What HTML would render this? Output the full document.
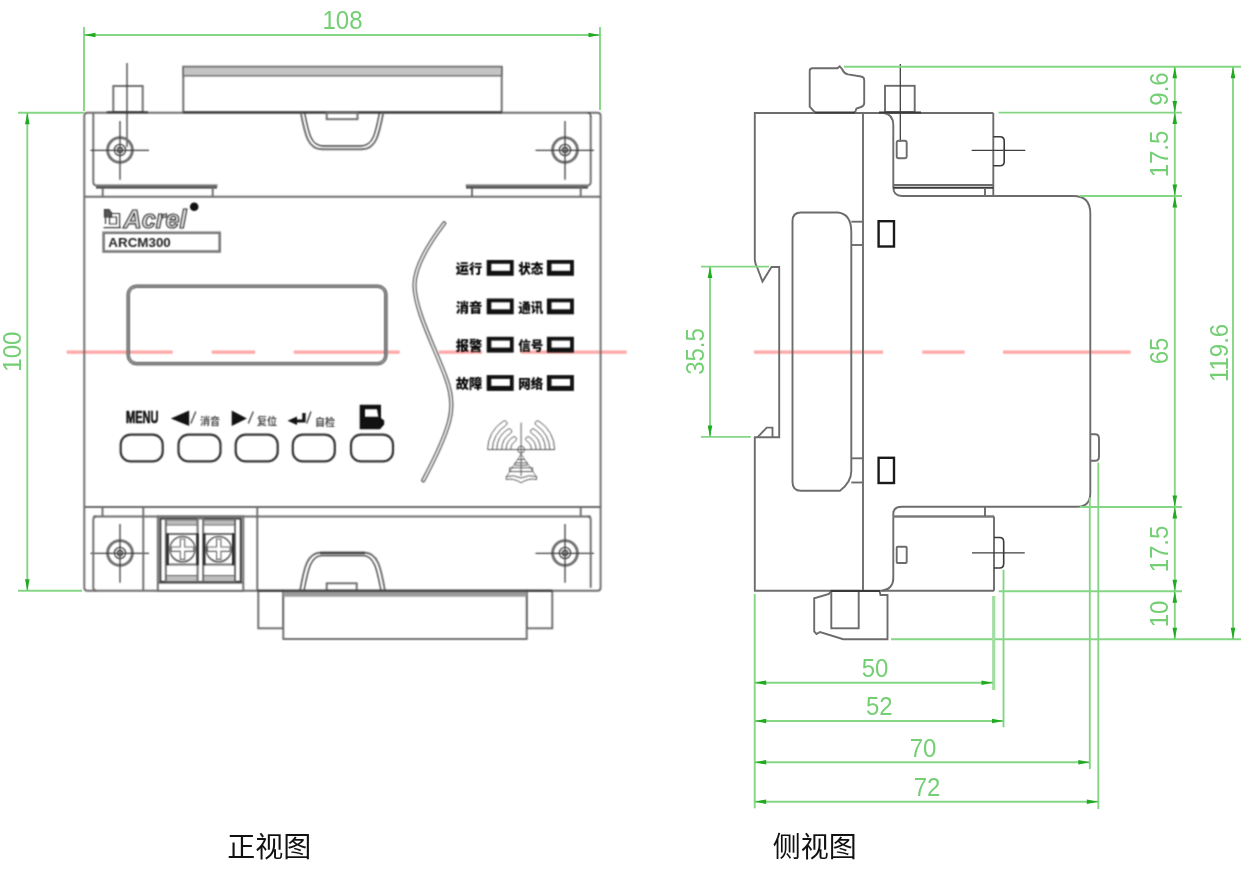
<!DOCTYPE html>
<html lang="zh">
<head>
<meta charset="utf-8">
<title>ARCM300 外形尺寸</title>
<style>
html,body{margin:0;padding:0;background:#fff;}
body{width:1242px;height:893px;overflow:hidden;position:relative;}
svg{will-change:transform;position:absolute;left:0;top:0;display:block;}
.k{fill:none;stroke:#6c6c6c;stroke-width:1.9;}
.kf{fill:#fff;stroke:#6c6c6c;stroke-width:1.9;}
.kd{fill:none;stroke:#3a3a3a;stroke-width:2;}
.kt{fill:none;stroke:#3e3e3e;stroke-width:1.3;}
.g{fill:none;stroke:#84d684;stroke-width:1.9;}
.ga{fill:#22aa22;stroke:none;}
.gt{fill:#74cf74;font-family:"Liberation Sans",sans-serif;font-size:24px;text-anchor:middle;}
.r{fill:none;stroke:#ffa6a6;stroke-width:3.2;}
.cap{font-family:"Liberation Sans","Noto Sans CJK SC",sans-serif;font-weight:400;font-size:28px;fill:#111;text-anchor:middle;}
.led{font-family:"Liberation Sans","Noto Sans CJK SC",sans-serif;font-weight:900;font-size:13px;fill:#000;}
.bl{font-family:"Liberation Sans","Noto Sans CJK SC",sans-serif;font-weight:700;font-size:10px;fill:#4a4a4a;}
</style>
</head>
<body>
<svg width="1242" height="893" viewBox="0 0 1242 893">
<defs><filter id="soft" x="0" y="0" width="1242" height="893" filterUnits="userSpaceOnUse" color-interpolation-filters="sRGB"><feConvolveMatrix order="3" kernelMatrix="0.0529 0.1242 0.0529 0.1242 0.2916 0.1242 0.0529 0.1242 0.0529" divisor="1" edgeMode="duplicate" preserveAlpha="false"/></filter></defs>
<rect x="0" y="0" width="1242" height="893" fill="#fff"/>
<g filter="url(#soft)">
<g id="centre">
<line class="r" x1="66.7" y1="352.2" x2="172.7" y2="352.2"/>
<line class="r" x1="211.7" y1="352.2" x2="255" y2="352.2"/>
<line class="r" x1="293.7" y1="352.2" x2="399.7" y2="352.2"/>
<line class="r" x1="438.7" y1="352.2" x2="482" y2="352.2"/>
<line class="r" x1="520.7" y1="352.2" x2="626.7" y2="352.2"/>
<line class="r" x1="754" y1="352.2" x2="883" y2="352.2"/>
<line class="r" x1="922.3" y1="352.2" x2="964.7" y2="352.2"/>
<line class="r" x1="1003" y1="352.2" x2="1130.7" y2="352.2"/>
</g>
<g id="front">
<path class="k" d="M84.3,587.8 V115.7 Q84.3,112.7 87.3,112.7 H597.6 Q600.6,112.7 600.6,115.7 V587.8 Q600.6,590.8 597.6,590.8 H87.3 Q84.3,590.8 84.3,587.8Z"/>
<line class="k" x1="84.3" y1="196.7" x2="600.6" y2="196.7"/>
<line class="k" x1="84.3" y1="507" x2="600.6" y2="507"/>
<path class="k" d="M93.3,112.7 V182 Q93.3,185.5 97,185.5 H217.5"/>
<line class="kd" x1="96" y1="187.6" x2="217" y2="187.6"/>
<line class="k" x1="102.7" y1="188" x2="102.7" y2="196.7"/>
<line class="k" x1="212.7" y1="186" x2="212.7" y2="196.7"/>
<path class="k" d="M590.7,115.7 V182 Q590.7,185.5 587,185.5 H465.7"/>
<path class="kt" d="M587.5,112.7 Q590.7,112.7 590.7,116.7"/>
<line class="kd" x1="466" y1="187.6" x2="588" y2="187.6"/>
<line class="k" x1="472" y1="188" x2="472" y2="196.7"/>
<line class="k" x1="580.7" y1="186" x2="580.7" y2="196.7"/>
<rect class="k" x="113.3" y="86" width="29.4" height="26"/>
<line class="kd" x1="106.7" y1="112.2" x2="148" y2="112.2"/>
<line class="kt" x1="127" y1="63" x2="127" y2="147"/>
<circle cx="120" cy="150" r="12.4" fill="none" stroke="#707070" stroke-width="2.9"/>
<circle class="kt" cx="120" cy="150" r="5.6"/>
<circle class="kt" cx="120" cy="150" r="2.6"/>
<line class="kt" x1="90.5" y1="150.3" x2="149" y2="150.3"/>
<line class="kt" x1="120" y1="121" x2="120" y2="179.7"/>
<circle cx="565" cy="150" r="12.4" fill="none" stroke="#707070" stroke-width="2.9"/>
<circle class="kt" cx="565" cy="150" r="5.6"/>
<circle class="kt" cx="565" cy="150" r="2.6"/>
<line class="kt" x1="535.5" y1="150.3" x2="594" y2="150.3"/>
<line class="kt" x1="565" y1="121" x2="565" y2="179.7"/>
<circle cx="120" cy="553" r="12.4" fill="none" stroke="#707070" stroke-width="2.9"/>
<circle class="kt" cx="120" cy="553" r="5.6"/>
<circle class="kt" cx="120" cy="553" r="2.6"/>
<line class="kt" x1="90.5" y1="553.3" x2="149" y2="553.3"/>
<line class="kt" x1="120" y1="524" x2="120" y2="582.7"/>
<circle cx="565" cy="553" r="12.4" fill="none" stroke="#707070" stroke-width="2.9"/>
<circle class="kt" cx="565" cy="553" r="5.6"/>
<circle class="kt" cx="565" cy="553" r="2.6"/>
<line class="kt" x1="535.5" y1="553.3" x2="594" y2="553.3"/>
<line class="kt" x1="565" y1="524" x2="565" y2="582.7"/>
<rect class="kf" x="183.3" y="66.7" width="318.4" height="45.8"/>
<rect x="183.3" y="66.7" width="318.4" height="9.1" fill="#c4c4c4" stroke="#6a6a6a" stroke-width="1.4"/>
<line class="kd" x1="183.3" y1="112.3" x2="501.7" y2="112.3"/>
<path class="k" d="M300.8,112.7 C305,135 308,149.2 322,149.2 H362 C376,149.2 379,135 383.3,112.7"/>
<path class="kt" d="M304.6,112.7 C308.5,133 311,146 323,146 H361 C373,146 375.6,133 379.5,112.7"/>
<rect class="k" x="326.7" y="112.7" width="30.8" height="6.5"/>
<g fill="none" stroke="#3a3a3a" stroke-width="1.2"><path d="M103.6,227.6 H121 M119.6,227 V213.5 H111"/><path d="M109.5,217 h7 v7 h-7z"/><path d="M104.5,209.5 h4.5 l2.5,3.5 v4 h-7z" fill="#555"/><path d="M105.5,217 V224" /></g>
<text x="123.5" y="228" font-family="Liberation Sans,sans-serif" font-style="italic" font-weight="700" font-size="26.5" fill="#e4e4e4" stroke="#2a2a2a" stroke-width="1.15" textLength="63" lengthAdjust="spacingAndGlyphs">Acrel</text>
<circle cx="194.2" cy="206.7" r="4.3" fill="#111"/>
<rect class="kd" x="103.6" y="232.8" width="116.1" height="18.7" style="stroke:#7a7a7a;stroke-width:2.6"/>
<text x="108.3" y="247.3" font-family="Liberation Sans,sans-serif" font-weight="700" font-size="13.6" fill="#222" textLength="62.5" lengthAdjust="spacingAndGlyphs">ARCM300</text>
<rect class="kd" x="128.3" y="286.3" width="257.5" height="77.3" rx="8" ry="8" style="stroke-width:3.3;stroke:#9a9a9a"/>
<rect class="kd" x="127.1" y="285.1" width="259.9" height="79.7" rx="9" ry="9" style="stroke-width:1;stroke:#5a5a5a"/>
<rect class="kd" x="129.5" y="287.5" width="255.1" height="74.9" rx="7" ry="7" style="stroke-width:1;stroke:#5a5a5a"/>
<rect class="kd" x="120.69999999999999" y="434.6" width="42.0" height="26.8" rx="10" ry="10" style="stroke:#333;stroke-width:2.2"/>
<rect class="kd" x="178.5" y="434.6" width="42.0" height="26.8" rx="10" ry="10" style="stroke:#333;stroke-width:2.2"/>
<rect class="kd" x="235.7" y="434.6" width="42.0" height="26.8" rx="10" ry="10" style="stroke:#333;stroke-width:2.2"/>
<rect class="kd" x="292.8" y="434.6" width="42.0" height="26.8" rx="10" ry="10" style="stroke:#333;stroke-width:2.2"/>
<rect class="kd" x="351" y="434.6" width="42" height="26.8" rx="10" ry="10" style="stroke:#333;stroke-width:2.2"/>
<text x="126" y="423.3" font-family="Liberation Sans,sans-serif" font-weight="700" font-size="11" fill="#111" stroke="#111" stroke-width="0.5" transform="translate(0,423.3) scale(1,1.45) translate(0,-423.3)" textLength="32.5" lengthAdjust="spacingAndGlyphs">MENU</text>
<path d="M170.8,418.4 L189.2,410.6 V426 Z" fill="#111"/>
<line class="kt" x1="190.8" y1="423.5" x2="195.8" y2="411.5"/>
<text class="bl" x="200" y="424.7">消音</text>
<path d="M246.9,418.4 L231.7,410.6 V426 Z" fill="#111"/>
<line class="kt" x1="248.3" y1="423.5" x2="253.3" y2="411.5"/>
<text class="bl" x="257" y="424.7">复位</text>
<path d="M287.5,420.8 L297,416.6 V419.4 H302.3 V413 H305.6 V422.4 H297 V425 Z" fill="#111"/>
<line class="kt" x1="306.7" y1="423.5" x2="311" y2="411.5"/>
<text class="bl" x="315" y="425.5">自检</text>
<path d="M359.7,404.7 H381 V418 L384.2,420.5 V424.5 L380,429.2 H359.7 Z" fill="#111"/>
<path d="M365,409.2 H377 L378.3,416.7 H365 Z" fill="#fff"/>
<line class="k" x1="93.3" y1="516.5" x2="590.7" y2="516.5"/>
<path class="k" d="M96.3,590.8 Q93.3,590.8 93.3,587.8 V519.5 Q93.3,516.5 96.3,516.5"/>
<line class="k" x1="102.5" y1="507" x2="102.5" y2="516.5"/>
<line class="k" x1="143.3" y1="507" x2="143.3" y2="590.8"/>
<line class="k" x1="257.3" y1="507" x2="257.3" y2="590.8"/>
<line class="k" x1="580.7" y1="507" x2="580.7" y2="516.5"/>
<path class="k" d="M590.7,587.8 V519.5 Q590.7,516.5 587.7,516.5"/>
<rect class="kf" x="157.8" y="516.5" width="85.5" height="74.3"/>
<rect class="kd" x="160.3" y="518.5" width="80.5" height="63.3"/>
<rect x="166" y="520" width="69" height="5" fill="#bdbdbd" stroke="#6a6a6a" stroke-width="1"/>
<rect x="166" y="575.5" width="69" height="6" fill="#bdbdbd" stroke="#6a6a6a" stroke-width="1"/>
<line class="k" x1="165.8" y1="518.5" x2="165.8" y2="581.8"/>
<line class="k" x1="235" y1="518.5" x2="235" y2="581.8"/>
<rect class="kf" x="197.6" y="518.5" width="5.6" height="63.3"/>
<clipPath id="cc167"><rect x="167.5" y="534" width="30.0" height="30.5"/></clipPath>
<circle cx="182.5" cy="549.2" r="12.6" fill="none" stroke="#5a5a5a" stroke-width="1.5" clip-path="url(#cc167)"/>
<path d="M180.3,539 h4.4 v8 h9 v4.4 h-9 v8 h-4.4 v-8 h-9 v-4.4 h9z" fill="#fff" stroke="#666" stroke-width="1.1"/>
<rect class="k" x="167.5" y="534" width="30.0" height="30.5"/>
<line class="kd" style="stroke:#2a2a2a;stroke-width:2.5" x1="167.5" y1="533.4" x2="167.5" y2="565.2"/>
<line class="kd" style="stroke:#2a2a2a;stroke-width:2.5" x1="197.5" y1="533.4" x2="197.5" y2="565.2"/>
<clipPath id="cc204"><rect x="204.2" y="534" width="29.100000000000023" height="30.5"/></clipPath>
<circle cx="218.75" cy="549.2" r="12.6" fill="none" stroke="#5a5a5a" stroke-width="1.5" clip-path="url(#cc204)"/>
<path d="M216.55,539 h4.4 v8 h9 v4.4 h-9 v8 h-4.4 v-8 h-9 v-4.4 h9z" fill="#fff" stroke="#666" stroke-width="1.1"/>
<rect class="k" x="204.2" y="534" width="29.1" height="30.5"/>
<line class="kd" style="stroke:#2a2a2a;stroke-width:2.5" x1="204.2" y1="533.4" x2="204.2" y2="565.2"/>
<line class="kd" style="stroke:#2a2a2a;stroke-width:2.5" x1="233.3" y1="533.4" x2="233.3" y2="565.2"/>
<line class="kt" x1="158.5" y1="582.8" x2="242.5" y2="582.8"/>
<path class="k" d="M300,590.8 C304,568 307,552.5 321,552.5 H364 C378,552.5 381,568 385,590.8"/>
<path class="kt" d="M304,590.8 C308,570 310.5,555.7 322,555.7 H363 C374.5,555.7 377,570 381,590.8"/>
<line class="kd" x1="320" y1="553.3" x2="365" y2="553.3"/>
<rect class="k" x="326.7" y="583.3" width="30.0" height="7.5"/>
<rect class="k" x="258.3" y="590.8" width="25.0" height="37.5"/>
<rect class="k" x="526.7" y="590.8" width="25.6" height="37.5"/>
<rect class="kf" x="283.3" y="590.8" width="243.4" height="48.2"/>
<rect x="283.3" y="590.8" width="243.4" height="5.9" fill="#9a9a9a"/>
<line class="kd" x1="257.5" y1="590.8" x2="552.3" y2="590.8"/>
<path class="k" d="M444.2,223.3 C430,242 414.5,266 414.5,285 C414.5,310 436,350 446,378 C452,394 452.5,410 449,422 C444,440 432,464 423.3,480.3" style="stroke:#585858;stroke-width:4.2;stroke-linecap:round"/>
<path class="k" d="M444.2,223.3 C430,242 414.5,266 414.5,285 C414.5,310 436,350 446,378 C452,394 452.5,410 449,422 C444,440 432,464 423.3,480.3" style="stroke:#fff;stroke-width:1.7;stroke-linecap:round"/>
<text class="led" x="455.8" y="273.3" textLength="26.5" lengthAdjust="spacingAndGlyphs">运行</text>
<text class="led" x="518.3" y="273.3" textLength="25" lengthAdjust="spacingAndGlyphs">状态</text>
<rect x="486.7" y="260" width="27" height="15.8" fill="#111"/>
<rect x="491.3" y="263.8" width="18.6" height="7" fill="#fff"/>
<rect x="546.9" y="260" width="27" height="15.8" fill="#111"/>
<rect x="551.5" y="263.8" width="18.6" height="7" fill="#fff"/>
<text class="led" x="455.8" y="311.8" textLength="26.5" lengthAdjust="spacingAndGlyphs">消音</text>
<text class="led" x="518.3" y="311.8" textLength="25" lengthAdjust="spacingAndGlyphs">通讯</text>
<rect x="486.7" y="298.5" width="27" height="15.8" fill="#111"/>
<rect x="491.3" y="302.3" width="18.6" height="7" fill="#fff"/>
<rect x="546.9" y="298.5" width="27" height="15.8" fill="#111"/>
<rect x="551.5" y="302.3" width="18.6" height="7" fill="#fff"/>
<text class="led" x="455.8" y="350.1" textLength="26.5" lengthAdjust="spacingAndGlyphs">报警</text>
<text class="led" x="518.3" y="350.1" textLength="25" lengthAdjust="spacingAndGlyphs">信号</text>
<rect x="486.7" y="336.8" width="27" height="15.8" fill="#111"/>
<rect x="491.3" y="340.6" width="18.6" height="7" fill="#fff"/>
<rect x="546.9" y="336.8" width="27" height="15.8" fill="#111"/>
<rect x="551.5" y="340.6" width="18.6" height="7" fill="#fff"/>
<text class="led" x="455.8" y="388.40000000000003" textLength="26.5" lengthAdjust="spacingAndGlyphs">故障</text>
<text class="led" x="518.3" y="388.40000000000003" textLength="25" lengthAdjust="spacingAndGlyphs">网络</text>
<rect x="486.7" y="375.1" width="27" height="15.8" fill="#111"/>
<rect x="491.3" y="378.90000000000003" width="18.6" height="7" fill="#fff"/>
<rect x="546.9" y="375.1" width="27" height="15.8" fill="#111"/>
<rect x="551.5" y="378.90000000000003" width="18.6" height="7" fill="#fff"/>
<g id="antenna" fill="none" stroke="#5a5a5a" stroke-width="1">
<line x1="521.1" y1="422.6" x2="521.1" y2="476"/><line x1="487.6" y1="449.6" x2="554.8" y2="449.6"/>
<circle cx="521.1" cy="449.6" r="3.4"/>
<path d="M506.1,449.6 A15,15 0 0 1 513.2,436.9 A2.35,2.35 0 0 1 515.6,440.9 A10.3,10.3 0 0 0 510.8,449.6"/>
<path d="M496.8,449.6 A24.3,24.3 0 0 1 508.2,429.0 A2.45,2.45 0 0 1 510.8,433.1 A19.4,19.4 0 0 0 501.7,449.6"/>
<path d="M487.6,449.6 A33.5,33.5 0 0 1 503.3,421.2 A2.40,2.40 0 0 1 505.9,425.3 A28.7,28.7 0 0 0 492.4,449.6"/>
<path d="M536.1,449.6 A15,15 0 0 0 529.0,436.9 A2.35,2.35 0 0 0 526.6,440.9 A10.3,10.3 0 0 1 531.4,449.6"/>
<path d="M545.4,449.6 A24.3,24.3 0 0 0 534.0,429.0 A2.45,2.45 0 0 0 531.4,433.1 A19.4,19.4 0 0 1 540.5,449.6"/>
<path d="M554.6,449.6 A33.5,33.5 0 0 0 538.9,421.2 A2.40,2.40 0 0 0 536.3,425.3 A28.7,28.7 0 0 1 549.8,449.6"/>
<path d="M517.5,459.5 H524.7 M515,462.8 H527.2 V465.3 H515Z M509.6,467.8 H532.6 V471.6 H509.6Z M506.2,476.5 Q513.5,474.3 521.1,478 Q528.7,474.3 536.6,476.5 L536.6,479.5 Q528.7,477.8 521.1,482.8 Q513.5,477.8 506.2,479.5Z"/>
<path d="M521.1,454 L506.5,476.5 M521.1,454 L536.3,476.5" stroke-width="0.8"/>
</g>
</g>
</g>
<g id="side">
<path class="k" d="M993.3,113 H754.8 V260 Q755.5,265 757,267 L762.5,281.5 L771.5,267 H779.2 V437.3 H754.8 V590.8 H994"/>
<path class="k" d="M757.5,437.3 L766.7,427.6 H772.5 V437.3"/>
<line class="k" x1="863" y1="113" x2="863" y2="590.8"/>
<path class="k" d="M851.3,232 V471 Q851.3,482 840,490.8 H801 Q792.5,490.8 792.5,482 V221 Q792.5,212.5 801,212.5 H838 Q851.3,214 851.3,232"/>
<line class="k" x1="851.3" y1="221.7" x2="863" y2="221.7"/>
<line class="k" x1="851.3" y1="245" x2="863" y2="245"/>
<line class="k" x1="851.3" y1="458.3" x2="863" y2="458.3"/>
<line class="k" x1="851.3" y1="482.5" x2="863" y2="482.5"/>
<rect class="kd" x="878.6" y="221.2" width="15.4" height="25.3" style="stroke:#1a1a1a;stroke-width:2.4"/>
<rect class="kd" x="878.6" y="457.8" width="15.4" height="25.2" style="stroke:#1a1a1a;stroke-width:2.4"/>
<path class="k" d="M884,113 Q893.3,114.5 893.3,125 V187 Q893.3,196 902,196 H1073.3 Q1090.3,196 1090.3,213.3 V493 Q1090.3,506.8 1077,506.8 H902 Q893.3,506.8 893.3,514 V578 Q893.3,589 882,590.8"/>
<line class="k" x1="993.3" y1="113" x2="993.3" y2="196"/>
<line class="k" x1="893.3" y1="185" x2="993.3" y2="185"/>
<line class="kd" x1="893.3" y1="187.8" x2="993.3" y2="187.8"/>
<line class="k" x1="985" y1="188" x2="985" y2="196"/>
<line class="k" style="stroke:#7a7a7a;stroke-width:2.3" x1="893.3" y1="516.5" x2="994" y2="516.5"/>
<line class="k" x1="994" y1="516.5" x2="994" y2="590.8"/>
<line class="k" x1="985" y1="507" x2="985" y2="516.5"/>
<rect class="k" x="885" y="85.8" width="29.7" height="26.2"/>
<line class="kd" x1="879" y1="112.6" x2="921" y2="112.6"/>
<line class="kt" x1="900.3" y1="64" x2="900.3" y2="141.7"/>
<rect class="k" x="896.7" y="140.8" width="10.0" height="17.5" rx="2" ry="2"/>
<rect class="k" x="896.7" y="546.7" width="10.0" height="16.3" rx="1" ry="1"/>
<path class="kd" d="M993.3,136.7 H1000 Q1004.2,136.7 1004.2,141 V161.5 Q1004.2,165.8 1000,165.8 H993.3" style="stroke-width:1.6"/>
<line class="kt" x1="971.7" y1="150.3" x2="1025.3" y2="150.3"/>
<path class="kd" d="M994,537.5 H999.7 Q1003.7,537.5 1003.7,542 V563.5 Q1003.7,568 999.7,568 H994" style="stroke-width:1.6"/>
<line class="kt" x1="972" y1="552.8" x2="1024.7" y2="552.8"/>
<path class="k" d="M1090.3,434.2 H1095 Q1099,434.2 1099,438.5 V456.5 Q1099,460.8 1095,460.8 H1090.3"/>
<path class="k" d="M815,112.5 L809.7,106.7 V71 Q809.7,68.3 812.5,68.3 H837.5 L839.7,66.3 L842,69 Q844,73.5 848,74.4 L861,76.5 Q864.2,77 864.2,80 V103 Q864.2,106 861,107 L856.5,108.5 L855,112.5"/>
<line class="kd" x1="815" y1="112.5" x2="855" y2="112.5"/>
<path class="k" d="M830.8,590.8 L829,594 L814.2,598.3 V631.5 L816.5,634 L820,632 L843.3,639.2 H887.5 V595 H880.5 L879.5,590.8"/>
<rect class="k" x="831.3" y="590.8" width="27.4" height="37.5"/>
<line class="kd" x1="830.8" y1="591" x2="880" y2="591"/>
</g>
<g id="dims">
<line class="g" x1="84" y1="27" x2="84" y2="111"/>
<line class="g" x1="600" y1="27" x2="600" y2="110"/>
<line class="g" x1="84" y1="35" x2="600" y2="35"/>
<path class="ga" d="M84,35 L95.5,32.7 V37.3Z"/>
<path class="ga" d="M600,35 L588.5,32.7 V37.3Z"/>
<text class="gt" transform="translate(342.5,29.2) scale(1,1.07)">108</text>
<line class="g" x1="18" y1="112.7" x2="84" y2="112.7"/>
<line class="g" x1="18" y1="590.7" x2="82" y2="590.7"/>
<line class="g" x1="27.3" y1="112.7" x2="27.3" y2="590.7"/>
<path class="ga" d="M27.3,112.7 L25.0,124.2 H29.6Z"/>
<path class="ga" d="M27.3,590.7 L25.0,579.2 H29.6Z"/>
<text class="gt" transform="translate(20.5,351.7) rotate(-90) scale(1,1.07)">100</text>
<line class="g" x1="701" y1="266.6" x2="769" y2="266.6"/>
<line class="g" x1="701" y1="436.9" x2="750.8" y2="436.9"/>
<line class="g" x1="710" y1="266.6" x2="710" y2="436.9"/>
<path class="ga" d="M710,266.6 L707.7,278.1 H712.3Z"/>
<path class="ga" d="M710,436.9 L707.7,425.4 H712.3Z"/>
<text class="gt" transform="translate(704.3,351.5) rotate(-90) scale(1,1.07)">35.5</text>
<line class="g" x1="844" y1="66.8" x2="1241" y2="66.8"/>
<line class="g" x1="998.5" y1="112.6" x2="1182" y2="112.6"/>
<line class="g" x1="1080" y1="196" x2="1182" y2="196"/>
<line class="g" x1="1080" y1="507" x2="1182" y2="507"/>
<line class="g" x1="998.7" y1="591.2" x2="1182" y2="591.2"/>
<line class="g" x1="891" y1="639.2" x2="1241" y2="639.2"/>
<line class="g" x1="1174.8" y1="66.8" x2="1174.8" y2="639.2"/>
<path class="ga" d="M1174.8,66.8 L1172.5,78.3 H1177.1Z"/>
<path class="ga" d="M1174.8,112.6 L1172.5,101.1 H1177.1Z"/>
<path class="ga" d="M1174.8,112.6 L1172.5,124.1 H1177.1Z"/>
<path class="ga" d="M1174.8,196 L1172.5,184.5 H1177.1Z"/>
<path class="ga" d="M1174.8,196 L1172.5,207.5 H1177.1Z"/>
<path class="ga" d="M1174.8,507 L1172.5,495.5 H1177.1Z"/>
<path class="ga" d="M1174.8,507 L1172.5,518.5 H1177.1Z"/>
<path class="ga" d="M1174.8,591.2 L1172.5,579.7 H1177.1Z"/>
<path class="ga" d="M1174.8,591.2 L1172.5,602.7 H1177.1Z"/>
<path class="ga" d="M1174.8,639.2 L1172.5,627.7 H1177.1Z"/>
<line class="g" x1="1233" y1="66.8" x2="1233" y2="639.2"/>
<path class="ga" d="M1233,66.8 L1230.7,78.3 H1235.3Z"/>
<path class="ga" d="M1233,639.2 L1230.7,627.7 H1235.3Z"/>
<text class="gt" transform="translate(1168.4,89) rotate(-90) scale(1,1.07)">9.6</text>
<text class="gt" transform="translate(1168.4,154) rotate(-90) scale(1,1.07)">17.5</text>
<text class="gt" transform="translate(1168.4,351) rotate(-90) scale(1,1.07)">65</text>
<text class="gt" transform="translate(1168.4,549) rotate(-90) scale(1,1.07)">17.5</text>
<text class="gt" transform="translate(1168.4,614) rotate(-90) scale(1,1.07)">10</text>
<text class="gt" transform="translate(1227.5,353) rotate(-90) scale(1,1.07)">119.6</text>
<line class="g" x1="754.7" y1="594" x2="754.7" y2="808.3"/>
<line class="g" style="stroke:#a2dea2;stroke-width:3.2" x1="993.7" y1="596" x2="993.7" y2="690"/>
<line class="g" x1="1003.5" y1="569.7" x2="1003.5" y2="727.3"/>
<line class="g" x1="1089.8" y1="497.5" x2="1089.8" y2="769"/>
<line class="g" x1="1098.3" y1="462.5" x2="1098.3" y2="809"/>
<line class="g" x1="754.7" y1="682.7" x2="993" y2="682.7"/>
<path class="ga" d="M754.7,682.7 L766.2,680.4000000000001 V685.0Z"/>
<path class="ga" d="M993,682.7 L981.5,680.4000000000001 V685.0Z"/>
<text class="gt" transform="translate(875,676.9) scale(1,1.07)">50</text>
<line class="g" x1="754.7" y1="721" x2="1003.5" y2="721"/>
<path class="ga" d="M754.7,721 L766.2,718.7 V723.3Z"/>
<path class="ga" d="M1003.5,721 L992.0,718.7 V723.3Z"/>
<text class="gt" transform="translate(879.3,715.2) scale(1,1.07)">52</text>
<line class="g" x1="754.7" y1="762.3" x2="1089.8" y2="762.3"/>
<path class="ga" d="M754.7,762.3 L766.2,760.0 V764.5999999999999Z"/>
<path class="ga" d="M1089.8,762.3 L1078.3,760.0 V764.5999999999999Z"/>
<text class="gt" transform="translate(923,756.5) scale(1,1.07)">70</text>
<line class="g" x1="754.7" y1="801.7" x2="1098.3" y2="801.7"/>
<path class="ga" d="M754.7,801.7 L766.2,799.4000000000001 V804.0Z"/>
<path class="ga" d="M1098.3,801.7 L1086.8,799.4000000000001 V804.0Z"/>
<text class="gt" transform="translate(927,795.9) scale(1,1.07)">72</text>
</g>
<text class="cap" x="269.3" y="857">正视图</text>
<text class="cap" x="814.7" y="857">侧视图</text>
</g>
</svg>
</body>
</html>
